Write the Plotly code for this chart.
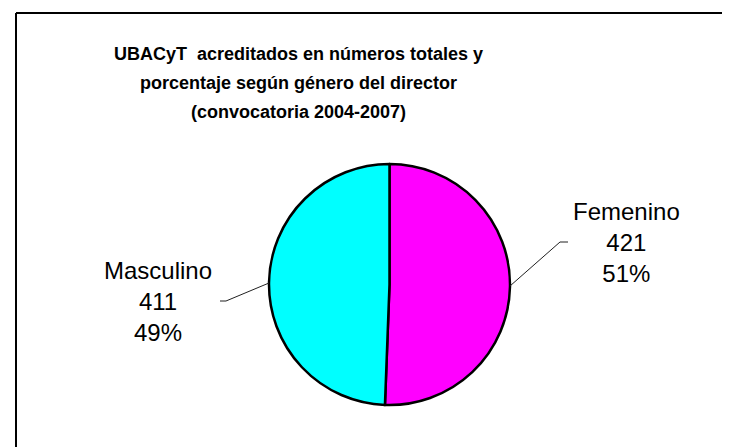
import plotly.graph_objects as go

# datos del gráfico
generos = ["Femenino", "Masculino"]
cantidades = [421, 411]
colores = ["#FF00FF", "#00FFFF"]
titulo = [
    "UBACyT  acreditados en números totales y",
    "porcentaje según género del director",
    "(convocatoria 2004-2007)",
]

W, H = 730, 447


def px(x):
    return x / W


def py(y):
    return 1 - y / H


total = sum(cantidades)
etiquetas = [
    f"{g}<br>{c}<br>{round(100 * c / total)}%" for g, c in zip(generos, cantidades)
]

fig = go.Figure()

fig.add_trace(go.Pie(
    labels=generos,
    values=cantidades,
    sort=False,
    direction="clockwise",
    rotation=0,
    marker=dict(colors=colores, line=dict(color="black", width=2.5)),
    textinfo="none",
    hoverinfo="label+value+percent",
    showlegend=False,
    domain=dict(x=[px(261), px(502)], y=[py(397), py(156)]),
))

# etiquetas exteriores
pos_etiquetas = [(618, 234), (150, 293)]
for txt, (x, y) in zip(etiquetas, pos_etiquetas):
    fig.add_annotation(
        x=px(x), y=py(y), xref="paper", yref="paper",
        text=txt, showarrow=False, align="center",
        xanchor="center", yanchor="middle",
        font=dict(family="Liberation Sans, Arial, sans-serif", size=24, color="black"),
    )

# líneas guía
guias = [
    [(502, 278), (552, 234), (560, 234)],
    [(261, 275), (218, 293), (212, 293)],
]
for g in guias:
    for (x0, y0), (x1, y1) in zip(g[:-1], g[1:]):
        fig.add_shape(type="line", xref="paper", yref="paper",
                      x0=px(x0), y0=py(y0), x1=px(x1), y1=py(y1),
                      line=dict(color="#202020", width=1))

# marco del área del gráfico (recortado a la derecha y abajo)
fig.add_shape(type="line", xref="paper", yref="paper",
              x0=px(8), y0=py(5), x1=1.01, y1=py(5),
              line=dict(color="black", width=2))
fig.add_shape(type="line", xref="paper", yref="paper",
              x0=px(8), y0=py(5), x1=px(8), y1=-0.01,
              line=dict(color="black", width=2))

# título, una línea por anotación
for linea, y in zip(titulo, [46, 75, 104]):
    fig.add_annotation(
        x=px(290), y=py(y), xref="paper", yref="paper",
        text="<b>" + linea + "</b>",
        showarrow=False, xanchor="center", yanchor="middle",
        font=dict(family="Liberation Sans, Arial, sans-serif", size=18, color="black"),
    )

fig.update_layout(
    width=W, height=H,
    margin=dict(l=0, r=0, t=0, b=0),
    paper_bgcolor="white",
    plot_bgcolor="white",
)

fig.write_html("out.html")
